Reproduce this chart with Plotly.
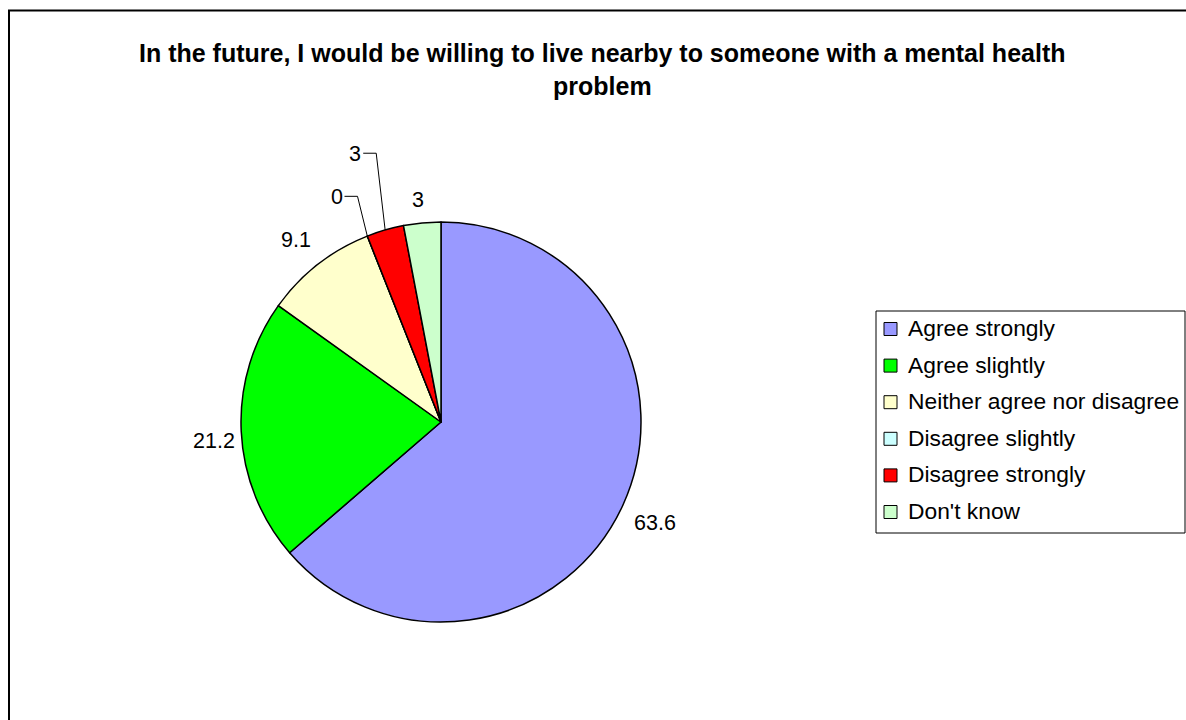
import math
import plotly.graph_objects as go

# Survey responses (percent)
categories = ["Agree strongly", "Agree slightly", "Neither agree nor disagree",
              "Disagree slightly", "Disagree strongly", "Don't know"]
values = [63.6, 21.2, 9.1, 0, 3, 3]
label_texts = ["63.6", "21.2", "9.1", "0", "3", "3"]
colors = ["#9999FF", "#00FF00", "#FFFFCC", "#CCFFFF", "#FF0000", "#CCFFCC"]

title_lines = ["In the future, I would be willing to live nearby to someone with a mental health",
               "problem"]

W, H = 1186, 720
FONT = "Liberation Sans, Arial, sans-serif"

# pie geometry in pixels
CX, CY, R = 441, 422, 200


def px(x):
    return x / W


def py(y):
    return 1 - y / H


fig = go.Figure()
fig.add_trace(go.Pie(
    labels=categories,
    values=values,
    sort=False,
    direction="clockwise",
    rotation=0,
    textinfo="none",
    hoverinfo="label+value",
    marker=dict(colors=colors, line=dict(color="black", width=1.5)),
    domain=dict(x=[px(CX - R), px(CX + R)], y=[py(CY + R), py(CY - R)]),
    showlegend=False,
))

annotations = []
shapes = []

# outer chart frame
shapes.append(dict(type="rect", xref="paper", yref="paper",
                   x0=px(9), y0=py(10.5), x1=1.02, y1=-0.02,
                   line=dict(color="black", width=2), fillcolor="rgba(0,0,0,0)"))

# title
for i, line in enumerate(title_lines):
    annotations.append(dict(text="<b>%s</b>" % line, x=px(602), y=py(53 + 33 * i),
                            xref="paper", yref="paper", showarrow=False,
                            xanchor="center", yanchor="middle",
                            font=dict(family=FONT, size=25, color="black")))

# data labels: placed around the pie at each slice's angle
total = sum(values)
label_radius = 232
# (dx, dy) pixel nudges; the crowded small slices get pulled out with leader lines
nudges = [(3, 4), (5, 8), (-2, 1), (-19, -9), (-21, -45), (-1, 9)]
leader = [False, False, False, True, True, False]
cum = 0.0
for i, v in enumerate(values):
    mid = (cum + v / 2) / total * 2 * math.pi
    cum += v
    sx, sy = math.sin(mid), -math.cos(mid)
    lx = CX + label_radius * sx + nudges[i][0]
    ly = CY + label_radius * sy + nudges[i][1]
    annotations.append(dict(text=label_texts[i], x=px(lx), y=py(ly),
                            xref="paper", yref="paper", showarrow=False,
                            xanchor="center", yanchor="middle",
                            font=dict(family=FONT, size=21.5, color="black")))
    if leader[i]:
        ex, ey = CX + R * sx, CY + R * sy
        elbow_x = lx + 21
        shapes.append(dict(type="path", xref="paper", yref="paper",
                           path="M %f,%f L %f,%f L %f,%f" % (
                               px(lx + 8), py(ly - 1), px(elbow_x), py(ly - 1),
                               px(ex), py(ey)),
                           line=dict(color="black", width=1)))

# legend box
shapes.append(dict(type="rect", xref="paper", yref="paper",
                   x0=px(876), y0=py(311), x1=px(1185), y1=py(533),
                   line=dict(color="black", width=1), fillcolor="white"))
row0, row_gap = 329, 36.6
for i, (name, col) in enumerate(zip(categories, colors)):
    yc = row0 + i * row_gap
    shapes.append(dict(type="rect", xref="paper", yref="paper",
                       x0=px(884), y0=py(yc - 6.5), x1=px(897), y1=py(yc + 6.5),
                       line=dict(color="black", width=1), fillcolor=col))
    annotations.append(dict(text=name, x=px(906), y=py(yc - 1),
                            xref="paper", yref="paper", showarrow=False,
                            xanchor="left", yanchor="middle",
                            font=dict(family=FONT, size=22.8, color="black")))

fig.update_layout(
    width=W, height=H,
    margin=dict(l=0, r=0, t=0, b=0),
    paper_bgcolor="white",
    plot_bgcolor="white",
    annotations=annotations,
    shapes=shapes,
    showlegend=False,
)

fig.write_html("out.html")
